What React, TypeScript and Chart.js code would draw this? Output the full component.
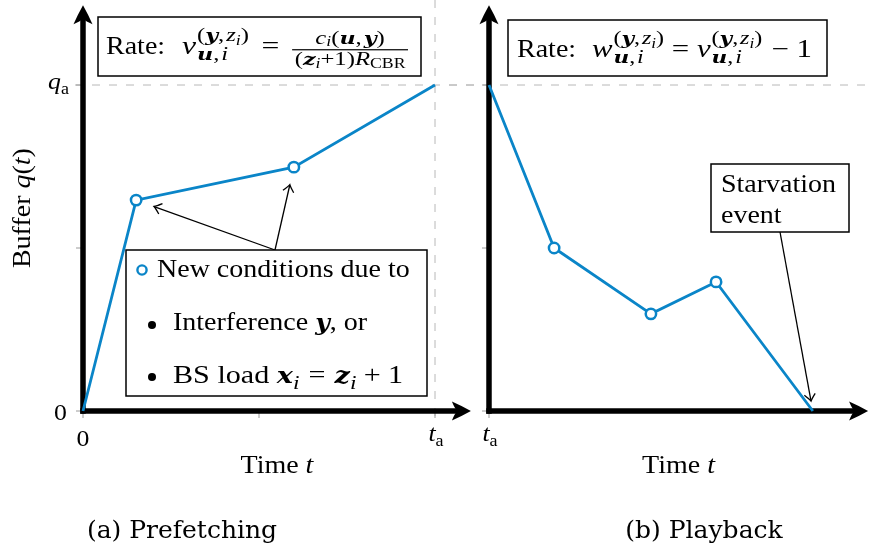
import React, { useEffect, useRef } from 'react';
import { Chart, registerables } from 'chart.js';

Chart.register(...registerables);

// ---------------- data ----------------
const prefetchTime = [0, 0.151, 0.599, 1];
const prefetchBuffer = [0, 0.647, 0.748, 1];
const prefetchMarked = [false, true, true, false];

const playbackTime = [0, 0.185, 0.46, 0.645, 0.92];
const playbackBuffer = [1, 0.5, 0.298, 0.396, 0];
const playbackMarked = [false, true, true, true, false];

const yTickValues = [0, 0.5, 1];
const prefetchXTickValues = [0, 0.5, 1];
const playbackXTickValues = [0];

const captionTexts = ['(a) Prefetching', '(b) Playback'];
const legendTexts = ['New conditions due to', 'Interference ', ', or', 'BS load '];
const starvationLines = ['Starvation', 'event'];
const axisTitleX = 'Time ';
const axisTitleY = 'Buffer ';

// ---------------- style ----------------
const BLUE = '#0a85c8';
const GUIDE = '#b8b8b8';
const TICK = '#9a9a9a';
const SERIF = '"Liberation Serif", "DejaVu Serif", serif';
const CAPTION_FONT = '"DejaVu Serif", serif';
const S = 25;
const TICK_S = 23;
const SX = 1.12;
const SC = 0.78;
const SSC = 0.56;
const Y_MAX = 1.245;
const Y_UNIT = 326;
const X_UNIT = 352;
const AXIS_Y = 411;
const H = 553;
const W = 869;
const AXIS_W = 5.5;

type Seg = { t?: string; f?: string; s?: number; dy?: number; g?: number };

const rm = (t: string, s = 1, dy = 0): Seg => ({ t, s, dy });
const it = (t: string, s = 1, dy = 0): Seg => ({ t, f: 'i', s, dy });
const bv = (t: string, s = 1, dy = 0): Seg => ({ t, f: 'bi', s, dy });
const gp = (g: number): Seg => ({ g });

function supYZ(dy: number) {
  return [rm('(', SC, dy), bv('y', SC, dy), rm(',', SC, dy), gp(0.06), it('z', SC, dy), it('i', SSC, dy + 0.14), rm(')', SC, dy)];
}
function subUI(dy: number) {
  return [bv('u', SC, dy), rm(',', SC, dy), gp(0.06), it('i', SC, dy)];
}

const box1Math: any[] = [
  it('v'), gp(0.03),
  { sup: supYZ(-0.52), sub: subUI(0.24) },
  gp(0.4), rm('='), gp(0.4),
  {
    num: [it('c', SC, -0.42), it('i', SSC, -0.32), rm('(', SC, -0.42), bv('u', SC, -0.42), rm(',', SC, -0.42), gp(0.06), bv('y', SC, -0.42), rm(')', SC, -0.42)],
    den: [rm('(', SC, 0.44), bv('z', SC, 0.44), it('i', SSC, 0.54), rm('+1)', SC, 0.44), it('R', SC, 0.44), rm('CBR', SSC, 0.54)],
    bar: 0.17,
  },
];
const box2Math: any[] = [
  it('w'), gp(0.03),
  { sup: supYZ(-0.52), sub: subUI(0.22) },
  gp(0.25), rm('='), gp(0.25),
  it('v'), gp(0.03),
  { sup: supYZ(-0.52), sub: subUI(0.22) },
  gp(0.3), rm('\u2212'), gp(0.25), rm('1'),
];
const legendLine2: any[] = [rm(legendTexts[1]), bv('y'), rm(legendTexts[2])];
const legendLine3: any[] = [
  rm(legendTexts[3]), bv('x'), it('i', SC, 0.24), gp(0.3), rm('='), gp(0.3),
  bv('z'), it('i', SC, 0.24), gp(0.24), rm('+'), gp(0.24), rm('1'),
];
const timeTitle: any[] = [rm(axisTitleX), it('t')];
const bufferTitle: any[] = [rm(axisTitleY), it('q'), rm('('), it('t'), rm(')')];
const qaLabel: any[] = [it('q'), rm('a', 0.7, 0.22)];
const taLabel: any[] = [it('t'), rm('a', 0.7, 0.22)];
const zeroLabel: any[] = [rm('0')];

// ---------------- text helpers ----------------
function fontOf(f: string | undefined, px: number) {
  if (f === 'bi') return `italic bold ${px * 0.9}px "DejaVu Serif"`;
  if (f === 'i') return `italic ${px}px ${SERIF}`;
  return `${px}px ${SERIF}`;
}
function segWidth(ctx: CanvasRenderingContext2D, sg: Seg, size: number) {
  if (sg.g !== undefined) return sg.g * size;
  ctx.font = fontOf(sg.f, (sg.s ?? 1) * size);
  return ctx.measureText(sg.t || '').width;
}
function runWidth(ctx: CanvasRenderingContext2D, segs: Seg[], size: number) {
  return segs.reduce((a, sg) => a + segWidth(ctx, sg, size), 0);
}
function drawRun(ctx: CanvasRenderingContext2D, segs: Seg[], x: number, size: number) {
  let cx = x;
  for (const sg of segs) {
    const w = segWidth(ctx, sg, size);
    if (sg.g === undefined) {
      ctx.font = fontOf(sg.f, (sg.s ?? 1) * size);
      ctx.fillText(sg.t || '', cx, (sg.dy ?? 0) * size);
    }
    cx += w;
  }
  return cx;
}
function nodeWidth(ctx: CanvasRenderingContext2D, n: any, size: number) {
  if (n.sup) return Math.max(runWidth(ctx, n.sup, size), runWidth(ctx, n.sub, size));
  if (n.num) return Math.max(runWidth(ctx, n.num, size), runWidth(ctx, n.den, size)) + 0.16 * size;
  return segWidth(ctx, n, size);
}
function drawNodes(ctx: CanvasRenderingContext2D, nodes: any[], x: number, y: number, size: number, align = 'left', fit?: number) {
  ctx.save();
  ctx.textAlign = 'left';
  ctx.textBaseline = 'alphabetic';
  ctx.fillStyle = '#000';
  const natural = nodes.reduce((a, n) => a + nodeWidth(ctx, n, size), 0);
  const k = fit ? fit / natural : SX;
  const total = natural * k;
  const sx = align === 'center' ? x - total / 2 : align === 'right' ? x - total : x;
  ctx.translate(sx, y);
  ctx.scale(k, 1);
  let cx = 0;
  for (const n of nodes) {
    const w = nodeWidth(ctx, n, size);
    if (n.sup) {
      drawRun(ctx, n.sup, cx, size);
      drawRun(ctx, n.sub, cx, size);
    } else if (n.num) {
      const nw = runWidth(ctx, n.num, size);
      const dw = runWidth(ctx, n.den, size);
      drawRun(ctx, n.num, cx + (w - nw) / 2, size);
      drawRun(ctx, n.den, cx + (w - dw) / 2, size);
      ctx.fillRect(cx, -n.bar * size - 0.6, w, 1.2);
    } else {
      drawRun(ctx, [n], cx, size);
    }
    cx += w;
  }
  ctx.restore();
}

// ---------------- shape helpers ----------------
function axisHead(ctx: CanvasRenderingContext2D, tx: number, ty: number, ux: number, uy: number) {
  const L = 19, Wd = 9.5;
  const nx = -uy, ny = ux;
  const P = (a: number, b: number) => [tx - ux * a * L + nx * b * Wd, ty - uy * a * L + ny * b * Wd];
  const c1 = P(1, 1), c2 = P(1, -1), notch = P(0.72, 0);
  const s1 = P(0.5, 0.56), s2 = P(0.5, -0.56), b1 = P(0.86, 0.3), b2 = P(0.86, -0.3);
  ctx.beginPath();
  ctx.moveTo(tx, ty);
  ctx.quadraticCurveTo(s1[0], s1[1], c1[0], c1[1]);
  ctx.quadraticCurveTo(b1[0], b1[1], notch[0], notch[1]);
  ctx.quadraticCurveTo(b2[0], b2[1], c2[0], c2[1]);
  ctx.quadraticCurveTo(s2[0], s2[1], tx, ty);
  ctx.closePath();
  ctx.fill();
}
function toArrow(ctx: CanvasRenderingContext2D, fx: number, fy: number, px: number, py: number, gapDist: number) {
  const dx = px - fx, dy = py - fy;
  const len = Math.hypot(dx, dy);
  const ux = dx / len, uy = dy / len;
  const tx = px - ux * gapDist, ty = py - uy * gapDist;
  const nx = -uy, ny = ux;
  ctx.save();
  ctx.strokeStyle = '#000';
  ctx.lineWidth = 1.3;
  ctx.beginPath();
  ctx.moveTo(fx, fy);
  ctx.lineTo(tx - ux * 0.8, ty - uy * 0.8);
  ctx.stroke();
  const hl = 7, hw = 5.5;
  ctx.beginPath();
  ctx.moveTo(tx - ux * hl + nx * hw, ty - uy * hl + ny * hw);
  ctx.quadraticCurveTo(tx - ux * 2 + nx * 1, ty - uy * 2 + ny * 1, tx, ty);
  ctx.quadraticCurveTo(tx - ux * 2 - nx * 1, ty - uy * 2 - ny * 1, tx - ux * hl - nx * hw, ty - uy * hl - ny * hw);
  ctx.stroke();
  ctx.restore();
}
function box(ctx: CanvasRenderingContext2D, x: number, y: number, w: number, h: number) {
  ctx.save();
  ctx.fillStyle = '#fff';
  ctx.fillRect(x, y, w, h);
  ctx.strokeStyle = '#000';
  ctx.lineWidth = 1.5;
  ctx.strokeRect(x, y, w, h);
  ctx.restore();
}

// ---------------- panels ----------------
const PANELS = [
  {
    key: 'a', left: 0, width: 480, padLeft: 83, xMax: 1.102,
    time: prefetchTime, buffer: prefetchBuffer, marked: prefetchMarked,
    xTicks: prefetchXTickValues, caption: captionTexts[0], captionX: 182,
  },
  {
    key: 'b', left: 440, width: 429, padLeft: 49, xMax: 1.077,
    time: playbackTime, buffer: playbackBuffer, marked: playbackMarked,
    xTicks: playbackXTickValues, caption: captionTexts[1], captionX: 704,
  },
];

function makeChart(canvas: HTMLCanvasElement, panel: any) {
  const ox = panel.left;
  const points = panel.time.map((t: number, i: number) => ({ x: t, y: panel.buffer[i] }));
  const padTop = AXIS_Y - Y_MAX * Y_UNIT;
  const padRight = panel.width - panel.padLeft - panel.xMax * X_UNIT;

  const deco = {
    id: 'deco',
    beforeDatasetsDraw(chart: any) {
      const ctx = chart.ctx as CanvasRenderingContext2D;
      const xs = chart.scales.x, ys = chart.scales.y;
      const x0 = xs.getPixelForValue(0), y0 = ys.getPixelForValue(0);
      const yq = ys.getPixelForValue(1);
      const top = ys.getPixelForValue(Y_MAX), right = xs.getPixelForValue(panel.xMax);
      ctx.save();
      ctx.strokeStyle = GUIDE;
      ctx.lineWidth = 1;
      ctx.setLineDash([8, 9]);
      ctx.beginPath();
      ctx.moveTo(75 - ox, yq);
      ctx.lineTo(W - ox, yq);
      ctx.stroke();
      if (panel.key === 'a') {
        const xt = xs.getPixelForValue(1);
        ctx.beginPath();
        ctx.moveTo(xt, 0);
        ctx.lineTo(xt, y0 + 6);
        ctx.stroke();
      }
      ctx.setLineDash([]);
      ctx.strokeStyle = TICK;
      for (const v of yTickValues) {
        const y = ys.getPixelForValue(v);
        ctx.beginPath(); ctx.moveTo(x0 - 7, y); ctx.lineTo(x0, y); ctx.stroke();
      }
      for (const v of panel.xTicks) {
        const x = xs.getPixelForValue(v);
        ctx.beginPath(); ctx.moveTo(x, y0); ctx.lineTo(x, y0 + 7); ctx.stroke();
      }
      ctx.strokeStyle = '#000';
      ctx.fillStyle = '#000';
      ctx.lineWidth = AXIS_W;
      ctx.beginPath();
      ctx.moveTo(x0, y0 + AXIS_W / 2);
      ctx.lineTo(x0, top + 12);
      ctx.stroke();
      ctx.beginPath();
      ctx.moveTo(x0 - AXIS_W / 2, y0);
      ctx.lineTo(right - 12, y0);
      ctx.stroke();
      axisHead(ctx, x0, top, 0, -1);
      axisHead(ctx, right, y0, 1, 0);
      ctx.restore();
    },
    afterDatasetsDraw(chart: any) {
      const ctx = chart.ctx as CanvasRenderingContext2D;
      const xs = chart.scales.x, ys = chart.scales.y;
      const ca = chart.chartArea;
      const x0 = xs.getPixelForValue(0), y0 = ys.getPixelForValue(0);
      const yq = ys.getPixelForValue(1);
      const midX = (ca.left + ca.right) / 2;

      drawNodes(ctx, timeTitle, midX, 473, S, 'center');

      if (panel.key === 'a') {
        drawNodes(ctx, zeroLabel, x0 - 16, y0 + 9, TICK_S, 'right');
        drawNodes(ctx, qaLabel, x0 - 14, yq + 4, TICK_S, 'right');
        drawNodes(ctx, zeroLabel, x0, y0 + 35, TICK_S, 'center');
        drawNodes(ctx, taLabel, xs.getPixelForValue(1) + 1, y0 + 30, TICK_S, 'center');
        ctx.save();
        ctx.translate(30, (ca.top + ca.bottom) / 2);
        ctx.rotate(-Math.PI / 2);
        drawNodes(ctx, bufferTitle, 0, 0, S, 'center');
        ctx.restore();

        const bx = 126, by = 250, bw = 301, bh = 146;
        const ax = 275;
        const p1x = xs.getPixelForValue(panel.time[1]), p1y = ys.getPixelForValue(panel.buffer[1]);
        const p2x = xs.getPixelForValue(panel.time[2]), p2y = ys.getPixelForValue(panel.buffer[2]);
        toArrow(ctx, ax, by, p1x, p1y, 19);
        toArrow(ctx, ax, by, p2x, p2y, 18);
        box(ctx, bx, by, bw, bh);
        ctx.save();
        ctx.strokeStyle = BLUE;
        ctx.fillStyle = '#fff';
        ctx.lineWidth = 2.4;
        ctx.beginPath(); ctx.arc(142, 270, 4.6, 0, Math.PI * 2); ctx.fill(); ctx.stroke();
        ctx.fillStyle = '#000';
        ctx.beginPath(); ctx.arc(152, 325, 4, 0, Math.PI * 2); ctx.fill();
        ctx.beginPath(); ctx.arc(152, 377, 4, 0, Math.PI * 2); ctx.fill();
        ctx.restore();
        drawNodes(ctx, [rm(legendTexts[0])], 157, 277, S, 'left');
        drawNodes(ctx, legendLine2, 173, 330, S, 'left');
        drawNodes(ctx, legendLine3, 173, 383, S, 'left', 230);

        box(ctx, 98, 17, 323, 59);
        drawNodes(ctx, [rm('Rate:')], 106, 54, S, 'left');
        drawNodes(ctx, box1Math, 182, 54, S, 'left', 226);
      } else {
        drawNodes(ctx, taLabel, x0 + 1, y0 + 30, TICK_S, 'center');

        const n = panel.time.length - 1;
        const px = xs.getPixelForValue(panel.time[n]), py = ys.getPixelForValue(panel.buffer[n]);
        toArrow(ctx, 780 - ox, 232, px, py, 10);
        box(ctx, 711 - ox, 164, 138, 68);
        drawNodes(ctx, [rm(starvationLines[0])], 721 - ox, 192, S, 'left');
        drawNodes(ctx, [rm(starvationLines[1])], 721 - ox, 223, S, 'left');

        box(ctx, 508 - ox, 20, 319, 56);
        drawNodes(ctx, [rm('Rate:')], 517 - ox, 57, S, 'left');
        drawNodes(ctx, box2Math, 592 - ox, 57, S, 'left', 220);
      }

      ctx.save();
      ctx.font = `25px ${CAPTION_FONT}`;
      ctx.fillStyle = '#000';
      ctx.textAlign = 'center';
      ctx.textBaseline = 'alphabetic';
      ctx.fillText(panel.caption, panel.captionX - ox, 538);
      ctx.restore();
    },
  };

  return new Chart(canvas, {
    type: 'line',
    data: {
      datasets: [
        {
          data: points,
          borderColor: BLUE,
          borderWidth: 2.8,
          pointRadius: panel.marked.map((m: boolean) => (m ? 5.2 : 0)),
          pointHoverRadius: 0,
          pointBorderWidth: 2.5,
          pointBorderColor: BLUE,
          pointBackgroundColor: '#fff',
          tension: 0,
          fill: false,
          clip: false as any,
        },
      ],
    },
    options: {
      responsive: false,
      animation: false,
      events: [],
      layout: { padding: { left: panel.padLeft, right: padRight, top: padTop, bottom: H - AXIS_Y } },
      plugins: { legend: { display: false }, tooltip: { enabled: false }, title: { display: false } },
      scales: {
        x: { type: 'linear', min: 0, max: panel.xMax, display: false },
        y: { type: 'linear', min: 0, max: Y_MAX, display: false },
      },
    },
    plugins: [deco],
  } as any);
}

function Panel({ panel }: { panel: any }) {
  const ref = useRef<HTMLCanvasElement>(null);
  useEffect(() => {
    const chart = makeChart(ref.current as HTMLCanvasElement, panel);
    return () => chart.destroy();
  }, [panel]);
  return (
    <canvas
      ref={ref}
      width={panel.width}
      height={H}
      style={{ position: 'absolute', left: panel.left, top: 0, width: panel.width, height: H }}
    />
  );
}

export default function App() {
  return (
    <div style={{ position: 'fixed', left: 0, top: 0, width: W, height: H, background: '#fff', overflow: 'hidden' }}>
      {PANELS.map((p) => (
        <Panel key={p.key} panel={p} />
      ))}
    </div>
  );
}
